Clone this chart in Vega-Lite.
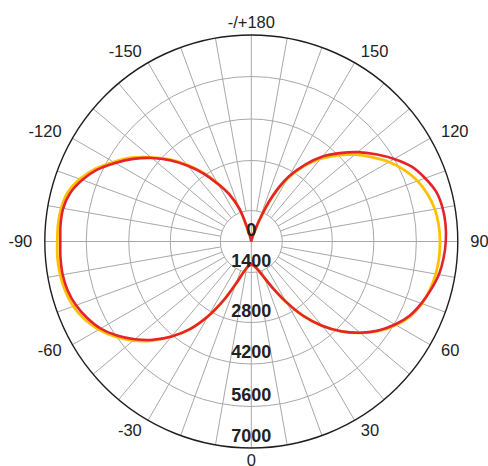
{
  "$schema": "https://vega.github.io/schema/vega-lite/v6.json",
  "width": 440,
  "height": 440,
  "autosize": {"type": "none"},
  "padding": {"left": 31.3, "top": 21.5, "right": 16.7, "bottom": 4.5},
  "background": "white",
  "config": {"view": {"stroke": null}},
  "datasets": {
    "rings": [{"v": 1400}, {"v": 2800}, {"v": 4200}, {"v": 5600}, {"v": 7000}],
    "spokes": [
      {"a": -170}, {"a": -160}, {"a": -150}, {"a": -140}, {"a": -130}, {"a": -120}, {"a": -110}, {"a": -100}, {"a": -90},
      {"a": -80}, {"a": -70}, {"a": -60}, {"a": -50}, {"a": -40}, {"a": -30}, {"a": -20}, {"a": -10}, {"a": 0},
      {"a": 10}, {"a": 20}, {"a": 30}, {"a": 40}, {"a": 50}, {"a": 60}, {"a": 70}, {"a": 80}, {"a": 90},
      {"a": 100}, {"a": 110}, {"a": 120}, {"a": 130}, {"a": 140}, {"a": 150}, {"a": 160}, {"a": 170}, {"a": 180}
    ],
    "anglelabels": [
      {"a": 0, "t": "0"}, {"a": 30, "t": "30"}, {"a": 60, "t": "60"}, {"a": 90, "t": "90"}, {"a": 120, "t": "120"},
      {"a": 150, "t": "150"}, {"a": 180, "t": "-/+180"}, {"a": -30, "t": "-30"}, {"a": -60, "t": "-60"},
      {"a": -90, "t": "-90"}, {"a": -120, "t": "-120"}, {"a": -150, "t": "-150"}
    ],
    "radiallabels": [
      {"v": 0, "t": "0"}, {"v": 1400, "t": "1400"}, {"v": 2800, "t": "2800"}, {"v": 4200, "t": "4200"},
      {"v": 5600, "t": "5600"}, {"v": 7000, "t": "7000"}
    ],
    "curves": [
      {"s": "C0-C180", "a": -180, "cd": 0}, {"s": "C0-C180", "a": -175, "cd": 0}, {"s": "C0-C180", "a": -170, "cd": 0},
      {"s": "C0-C180", "a": -165, "cd": 361}, {"s": "C0-C180", "a": -160, "cd": 1512}, {"s": "C0-C180", "a": -155, "cd": 1988},
      {"s": "C0-C180", "a": -150, "cd": 2380}, {"s": "C0-C180", "a": -145, "cd": 2867}, {"s": "C0-C180", "a": -140, "cd": 3407},
      {"s": "C0-C180", "a": -135, "cd": 3947}, {"s": "C0-C180", "a": -130, "cd": 4447}, {"s": "C0-C180", "a": -125, "cd": 4908},
      {"s": "C0-C180", "a": -120, "cd": 5337}, {"s": "C0-C180", "a": -115, "cd": 5769}, {"s": "C0-C180", "a": -110, "cd": 6106},
      {"s": "C0-C180", "a": -105, "cd": 6359}, {"s": "C0-C180", "a": -100, "cd": 6477}, {"s": "C0-C180", "a": -95, "cd": 6494},
      {"s": "C0-C180", "a": -90, "cd": 6477}, {"s": "C0-C180", "a": -85, "cd": 6494}, {"s": "C0-C180", "a": -80, "cd": 6494},
      {"s": "C0-C180", "a": -75, "cd": 6443}, {"s": "C0-C180", "a": -70, "cd": 6325}, {"s": "C0-C180", "a": -65, "cd": 6140},
      {"s": "C0-C180", "a": -60, "cd": 5904}, {"s": "C0-C180", "a": -55, "cd": 5567}, {"s": "C0-C180", "a": -50, "cd": 5172},
      {"s": "C0-C180", "a": -45, "cd": 4744}, {"s": "C0-C180", "a": -40, "cd": 4249}, {"s": "C0-C180", "a": -35, "cd": 3677},
      {"s": "C0-C180", "a": -30, "cd": 2969}, {"s": "C0-C180", "a": -25, "cd": 2324}, {"s": "C0-C180", "a": -20, "cd": 1792},
      {"s": "C0-C180", "a": -15, "cd": 1456}, {"s": "C0-C180", "a": -10, "cd": 1219}, {"s": "C0-C180", "a": -5, "cd": 1084},
      {"s": "C0-C180", "a": 0, "cd": 1039}, {"s": "C0-C180", "a": 5, "cd": 1084}, {"s": "C0-C180", "a": 10, "cd": 1197},
      {"s": "C0-C180", "a": 15, "cd": 1400}, {"s": "C0-C180", "a": 20, "cd": 1624}, {"s": "C0-C180", "a": 25, "cd": 1988},
      {"s": "C0-C180", "a": 30, "cd": 2492}, {"s": "C0-C180", "a": 35, "cd": 3137}, {"s": "C0-C180", "a": 40, "cd": 3778},
      {"s": "C0-C180", "a": 45, "cd": 4348}, {"s": "C0-C180", "a": 50, "cd": 4842}, {"s": "C0-C180", "a": 55, "cd": 5271},
      {"s": "C0-C180", "a": 60, "cd": 5634}, {"s": "C0-C180", "a": 65, "cd": 5937}, {"s": "C0-C180", "a": 70, "cd": 6140},
      {"s": "C0-C180", "a": 75, "cd": 6308}, {"s": "C0-C180", "a": 80, "cd": 6460}, {"s": "C0-C180", "a": 85, "cd": 6544},
      {"s": "C0-C180", "a": 90, "cd": 6595}, {"s": "C0-C180", "a": 95, "cd": 6612}, {"s": "C0-C180", "a": 100, "cd": 6585},
      {"s": "C0-C180", "a": 105, "cd": 6494}, {"s": "C0-C180", "a": 110, "cd": 6275}, {"s": "C0-C180", "a": 115, "cd": 6005},
      {"s": "C0-C180", "a": 120, "cd": 5600}, {"s": "C0-C180", "a": 125, "cd": 5172}, {"s": "C0-C180", "a": 130, "cd": 4744},
      {"s": "C0-C180", "a": 135, "cd": 4282}, {"s": "C0-C180", "a": 140, "cd": 3812}, {"s": "C0-C180", "a": 145, "cd": 3238},
      {"s": "C0-C180", "a": 150, "cd": 2632}, {"s": "C0-C180", "a": 155, "cd": 1932}, {"s": "C0-C180", "a": 160, "cd": 903},
      {"s": "C0-C180", "a": 165, "cd": 181}, {"s": "C0-C180", "a": 170, "cd": 0}, {"s": "C0-C180", "a": 175, "cd": 0},
      {"s": "C0-C180", "a": 180, "cd": 0},
      {"s": "C90-C270", "a": -180, "cd": 361}, {"s": "C90-C270", "a": -175, "cd": 339}, {"s": "C90-C270", "a": -170, "cd": 316},
      {"s": "C90-C270", "a": -165, "cd": 452}, {"s": "C90-C270", "a": -160, "cd": 1512}, {"s": "C90-C270", "a": -155, "cd": 1988},
      {"s": "C90-C270", "a": -150, "cd": 2408}, {"s": "C90-C270", "a": -145, "cd": 2901}, {"s": "C90-C270", "a": -140, "cd": 3441},
      {"s": "C90-C270", "a": -135, "cd": 3981}, {"s": "C90-C270", "a": -130, "cd": 4480}, {"s": "C90-C270", "a": -125, "cd": 4974},
      {"s": "C90-C270", "a": -120, "cd": 5402}, {"s": "C90-C270", "a": -115, "cd": 5836}, {"s": "C90-C270", "a": -110, "cd": 6190},
      {"s": "C90-C270", "a": -105, "cd": 6443}, {"s": "C90-C270", "a": -100, "cd": 6544}, {"s": "C90-C270", "a": -95, "cd": 6578},
      {"s": "C90-C270", "a": -90, "cd": 6578}, {"s": "C90-C270", "a": -85, "cd": 6595}, {"s": "C90-C270", "a": -80, "cd": 6578},
      {"s": "C90-C270", "a": -75, "cd": 6527}, {"s": "C90-C270", "a": -70, "cd": 6426}, {"s": "C90-C270", "a": -65, "cd": 6241},
      {"s": "C90-C270", "a": -60, "cd": 5971}, {"s": "C90-C270", "a": -55, "cd": 5634}, {"s": "C90-C270", "a": -50, "cd": 5238},
      {"s": "C90-C270", "a": -45, "cd": 4776}, {"s": "C90-C270", "a": -40, "cd": 4249}, {"s": "C90-C270", "a": -35, "cd": 3677},
      {"s": "C90-C270", "a": -30, "cd": 2969}, {"s": "C90-C270", "a": -25, "cd": 2324}, {"s": "C90-C270", "a": -20, "cd": 1792},
      {"s": "C90-C270", "a": -15, "cd": 1456}, {"s": "C90-C270", "a": -10, "cd": 1219}, {"s": "C90-C270", "a": -5, "cd": 1084},
      {"s": "C90-C270", "a": 0, "cd": 1039}, {"s": "C90-C270", "a": 5, "cd": 1084}, {"s": "C90-C270", "a": 10, "cd": 1197},
      {"s": "C90-C270", "a": 15, "cd": 1400}, {"s": "C90-C270", "a": 20, "cd": 1624}, {"s": "C90-C270", "a": 25, "cd": 1988},
      {"s": "C90-C270", "a": 30, "cd": 2492}, {"s": "C90-C270", "a": 35, "cd": 3137}, {"s": "C90-C270", "a": 40, "cd": 3778},
      {"s": "C90-C270", "a": 45, "cd": 4348}, {"s": "C90-C270", "a": 50, "cd": 4842}, {"s": "C90-C270", "a": 55, "cd": 5304},
      {"s": "C90-C270", "a": 60, "cd": 5667}, {"s": "C90-C270", "a": 65, "cd": 5971}, {"s": "C90-C270", "a": 70, "cd": 6157},
      {"s": "C90-C270", "a": 75, "cd": 6275}, {"s": "C90-C270", "a": 80, "cd": 6350}, {"s": "C90-C270", "a": 85, "cd": 6392},
      {"s": "C90-C270", "a": 90, "cd": 6400}, {"s": "C90-C270", "a": 95, "cd": 6380}, {"s": "C90-C270", "a": 100, "cd": 6320},
      {"s": "C90-C270", "a": 105, "cd": 6190}, {"s": "C90-C270", "a": 110, "cd": 6005}, {"s": "C90-C270", "a": 115, "cd": 5735},
      {"s": "C90-C270", "a": 120, "cd": 5402}, {"s": "C90-C270", "a": 125, "cd": 5007}, {"s": "C90-C270", "a": 130, "cd": 4612},
      {"s": "C90-C270", "a": 135, "cd": 4183}, {"s": "C90-C270", "a": 140, "cd": 3711}, {"s": "C90-C270", "a": 145, "cd": 3171},
      {"s": "C90-C270", "a": 150, "cd": 2576}, {"s": "C90-C270", "a": 155, "cd": 1904}, {"s": "C90-C270", "a": 160, "cd": 903},
      {"s": "C90-C270", "a": 165, "cd": 271}, {"s": "C90-C270", "a": 170, "cd": 316}, {"s": "C90-C270", "a": 175, "cd": 339},
      {"s": "C90-C270", "a": 180, "cd": 361}
    ]
  },
  "layer": [
    {
      "data": {"name": "rings"},
      "transform": [
        {"filter": "datum.v < 7000"},
        {"calculate": "datum.v<=1400 ? datum.v*31/1400 : datum.v<=2800 ? 31+(datum.v-1400)*50/1400 : datum.v<=4200 ? 81+(datum.v-2800)*41.5/1400 : datum.v<=5600 ? 122.5+(datum.v-4200)*42.5/1400 : 165+(datum.v-5600)*41.5/1400", "as": "r"}
      ],
      "mark": {"type": "arc", "theta": 0, "theta2": 6.2832, "filled": false, "stroke": "#a8a8a8", "strokeWidth": 1},
      "encoding": {
        "radius": {"field": "r", "type": "quantitative", "scale": null, "stack": null}
      }
    },
    {
      "data": {"name": "spokes"},
      "transform": [
        {"calculate": "datum.a*PI/180", "as": "rad"},
        {"calculate": "datum.a % 90 == 0 ? 0 : 31", "as": "r0"},
        {"calculate": "datum.r0*sin(datum.rad)", "as": "x1"},
        {"calculate": "-datum.r0*cos(datum.rad)", "as": "y1"},
        {"calculate": "206.5*sin(datum.rad)", "as": "x2"},
        {"calculate": "-206.5*cos(datum.rad)", "as": "y2"}
      ],
      "mark": {"type": "rule", "stroke": "#a8a8a8", "strokeWidth": 1},
      "encoding": {
        "x": {"field": "x1", "type": "quantitative", "scale": {"domain": [-220, 220], "nice": false, "zero": false}, "axis": null},
        "y": {"field": "y1", "type": "quantitative", "scale": {"domain": [-220, 220], "nice": false, "zero": false}, "axis": null},
        "x2": {"field": "x2"},
        "y2": {"field": "y2"}
      }
    },
    {
      "data": {"name": "rings"},
      "transform": [
        {"filter": "datum.v == 7000"},
        {"calculate": "206.5", "as": "r"}
      ],
      "mark": {"type": "arc", "theta": 0, "theta2": 6.2832, "filled": false, "stroke": "#1e1e1e", "strokeWidth": 1.4},
      "encoding": {
        "radius": {"field": "r", "type": "quantitative", "scale": null, "stack": null}
      }
    },
    {
      "data": {"name": "curves"},
      "transform": [
        {"filter": "datum.s == 'C90-C270'"},
        {"calculate": "datum.cd<=1400 ? datum.cd*31/1400 : datum.cd<=2800 ? 31+(datum.cd-1400)*50/1400 : datum.cd<=4200 ? 81+(datum.cd-2800)*41.5/1400 : datum.cd<=5600 ? 122.5+(datum.cd-4200)*42.5/1400 : 165+(datum.cd-5600)*41.5/1400", "as": "r"},
        {"calculate": "datum.a*PI/180", "as": "rad"},
        {"calculate": "datum.r*sin(datum.rad)", "as": "px"},
        {"calculate": "-datum.r*cos(datum.rad)", "as": "py"}
      ],
      "mark": {"type": "line", "stroke": "#ffc000", "strokeWidth": 2.8, "interpolate": "catmull-rom", "strokeJoin": "round"},
      "encoding": {
        "x": {"field": "px", "type": "quantitative", "scale": {"domain": [-220, 220], "nice": false, "zero": false}, "axis": null},
        "y": {"field": "py", "type": "quantitative", "scale": {"domain": [-220, 220], "nice": false, "zero": false}, "axis": null},
        "order": {"field": "a", "type": "quantitative"}
      }
    },
    {
      "data": {"name": "curves"},
      "transform": [
        {"filter": "datum.s == 'C0-C180'"},
        {"calculate": "datum.cd<=1400 ? datum.cd*31/1400 : datum.cd<=2800 ? 31+(datum.cd-1400)*50/1400 : datum.cd<=4200 ? 81+(datum.cd-2800)*41.5/1400 : datum.cd<=5600 ? 122.5+(datum.cd-4200)*42.5/1400 : 165+(datum.cd-5600)*41.5/1400", "as": "r"},
        {"calculate": "datum.a*PI/180", "as": "rad"},
        {"calculate": "datum.r*sin(datum.rad)", "as": "px"},
        {"calculate": "-datum.r*cos(datum.rad)", "as": "py"}
      ],
      "mark": {"type": "line", "stroke": "#e4232b", "strokeWidth": 2.6, "interpolate": "catmull-rom", "strokeJoin": "round"},
      "encoding": {
        "x": {"field": "px", "type": "quantitative", "scale": {"domain": [-220, 220], "nice": false, "zero": false}, "axis": null},
        "y": {"field": "py", "type": "quantitative", "scale": {"domain": [-220, 220], "nice": false, "zero": false}, "axis": null},
        "order": {"field": "a", "type": "quantitative"}
      }
    },
    {
      "data": {"name": "anglelabels"},
      "transform": [
        {"filter": "datum.a > 0 && datum.a < 180"},
        {"calculate": "datum.a*PI/180", "as": "rad"},
        {"calculate": "219*sin(datum.rad)", "as": "px"},
        {"calculate": "-219*cos(datum.rad)", "as": "py"}
      ],
      "mark": {"type": "text", "align": "left", "baseline": "middle", "font": "Liberation Sans", "fontSize": 16.5, "fill": "#222222"},
      "encoding": {
        "x": {"field": "px", "type": "quantitative", "scale": {"domain": [-220, 220], "nice": false, "zero": false}, "axis": null},
        "y": {"field": "py", "type": "quantitative", "scale": {"domain": [-220, 220], "nice": false, "zero": false}, "axis": null},
        "text": {"field": "t"}
      }
    },
    {
      "data": {"name": "anglelabels"},
      "transform": [
        {"filter": "datum.a < 0 && datum.a > -180"},
        {"calculate": "datum.a*PI/180", "as": "rad"},
        {"calculate": "219*sin(datum.rad)", "as": "px"},
        {"calculate": "-219*cos(datum.rad)", "as": "py"}
      ],
      "mark": {"type": "text", "align": "right", "baseline": "middle", "font": "Liberation Sans", "fontSize": 16.5, "fill": "#222222"},
      "encoding": {
        "x": {"field": "px", "type": "quantitative", "scale": {"domain": [-220, 220], "nice": false, "zero": false}, "axis": null},
        "y": {"field": "py", "type": "quantitative", "scale": {"domain": [-220, 220], "nice": false, "zero": false}, "axis": null},
        "text": {"field": "t"}
      }
    },
    {
      "data": {"name": "anglelabels"},
      "transform": [
        {"filter": "datum.a == 0 || datum.a == 180"},
        {"calculate": "datum.a*PI/180", "as": "rad"},
        {"calculate": "219*sin(datum.rad)", "as": "px"},
        {"calculate": "-219*cos(datum.rad)", "as": "py"}
      ],
      "mark": {"type": "text", "align": "center", "baseline": "middle", "font": "Liberation Sans", "fontSize": 16.5, "fill": "#222222"},
      "encoding": {
        "x": {"field": "px", "type": "quantitative", "scale": {"domain": [-220, 220], "nice": false, "zero": false}, "axis": null},
        "y": {"field": "py", "type": "quantitative", "scale": {"domain": [-220, 220], "nice": false, "zero": false}, "axis": null},
        "text": {"field": "t"}
      }
    },
    {
      "data": {"name": "radiallabels"},
      "transform": [
        {"calculate": "datum.v<=1400 ? datum.v*31/1400 : datum.v<=2800 ? 31+(datum.v-1400)*50/1400 : datum.v<=4200 ? 81+(datum.v-2800)*41.5/1400 : datum.v<=5600 ? 122.5+(datum.v-4200)*42.5/1400 : 165+(datum.v-5600)*41.5/1400", "as": "r"},
        {"calculate": "0", "as": "px"},
        {"calculate": "-datum.r", "as": "py"}
      ],
      "mark": {"type": "text", "align": "center", "baseline": "middle", "dy": -11, "font": "Liberation Sans", "fontWeight": "bold", "fontSize": 18, "fill": "#222222"},
      "encoding": {
        "x": {"field": "px", "type": "quantitative", "scale": {"domain": [-220, 220], "nice": false, "zero": false}, "axis": null},
        "y": {"field": "py", "type": "quantitative", "scale": {"domain": [-220, 220], "nice": false, "zero": false}, "axis": null},
        "text": {"field": "t"}
      }
    }
  ]
}
